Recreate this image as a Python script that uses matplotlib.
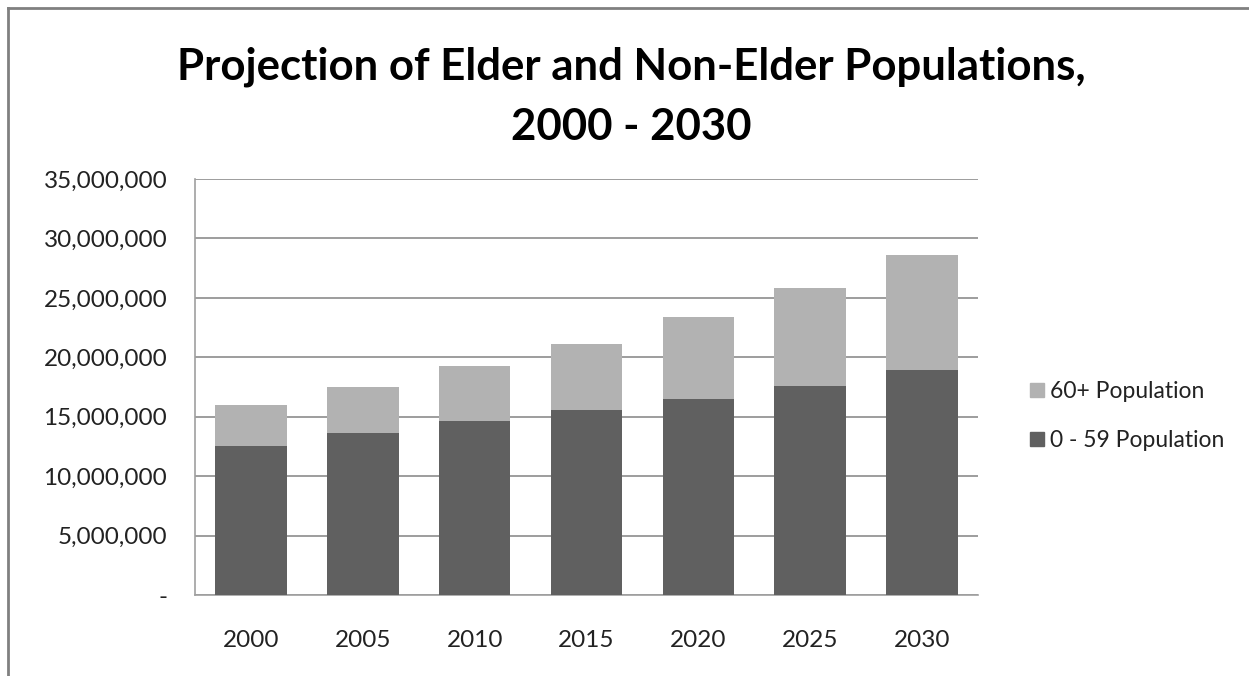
import matplotlib
matplotlib.use("Agg")
from matplotlib import pyplot as plt
from matplotlib.ticker import FuncFormatter
from matplotlib.lines import Line2D
import numpy as np

years = ["2000", "2005", "2010", "2015", "2020", "2025", "2030"]
young = [12.5e6, 13.6e6, 14.6e6, 15.6e6, 16.5e6, 17.6e6, 18.9e6]
elder = [3.5e6, 3.9e6, 4.7e6, 5.5e6, 6.9e6, 8.2e6, 9.7e6]
yticks = [0, 5e6, 10e6, 15e6, 20e6, 25e6, 30e6, 35e6]

dark = "#606060"
light = "#b2b2b2"
grid = "#8c8c8c"

plt.rcParams["font.family"] = ["Lato", "DejaVu Sans"]

W, H = 1249, 676
fig = plt.figure(figsize=(W / 100, H / 100), dpi=100)
ax = fig.add_axes([195 / W, 1 - 595 / H, (978 - 195) / W, (595 - 179) / H])

x = np.arange(len(years))
ax.bar(x, young, width=0.64, color=dark, label="0 - 59 Population", zorder=3)
ax.bar(x, elder, width=0.64, bottom=young, color=light, label="60+ Population", zorder=3)

ax.set_xlim(-0.5, len(years) - 0.5)
ax.set_ylim(0, 35e6)
ax.set_yticks(yticks)
ax.yaxis.set_major_formatter(FuncFormatter(lambda v, p: "-" if v == 0 else f"{v:,.0f}"))
ax.set_xticks(x)
ax.set_xticklabels(years)
ax.tick_params(axis="both", length=0, labelsize=17.5, colors="#222222")
ax.tick_params(axis="y", pad=20)
ax.tick_params(axis="x", pad=25)
ax.grid(axis="y", color=grid, linewidth=1.2, zorder=0)
for s in ["top", "right"]:
    ax.spines[s].set_visible(False)
for s in ["left", "bottom"]:
    ax.spines[s].set_color("#a0a0a0")
    ax.spines[s].set_linewidth(1.2)

handles = [
    Line2D([], [], marker="s", linestyle="", markersize=10, color=light),
    Line2D([], [], marker="s", linestyle="", markersize=10, color=dark),
]
fig.legend(handles, ["60+ Population", "0 - 59 Population"],
           loc="center left", bbox_to_anchor=(1005 / W, 1 - 416 / H),
           frameon=False, fontsize=16.5, handletextpad=0.05, labelspacing=1.2,
           handlelength=1.0, labelcolor="#222222")

fig.text(631 / W, 1 - 97 / H, "Projection of Elder and Non-Elder Populations,\n2000 - 2030",
         ha="center", va="center", fontsize=31.5, fontweight="bold",
         linespacing=1.62, color="black")

# outer chart border (top and left edges only visible)
fig.add_artist(Line2D([8 / W, 1], [1 - 8 / H, 1 - 8 / H], transform=fig.transFigure,
                      color="#808080", linewidth=2))
fig.add_artist(Line2D([8 / W, 8 / W], [0, 1 - 8 / H], transform=fig.transFigure,
                      color="#808080", linewidth=2))

fig.savefig("out.png", dpi=100)
